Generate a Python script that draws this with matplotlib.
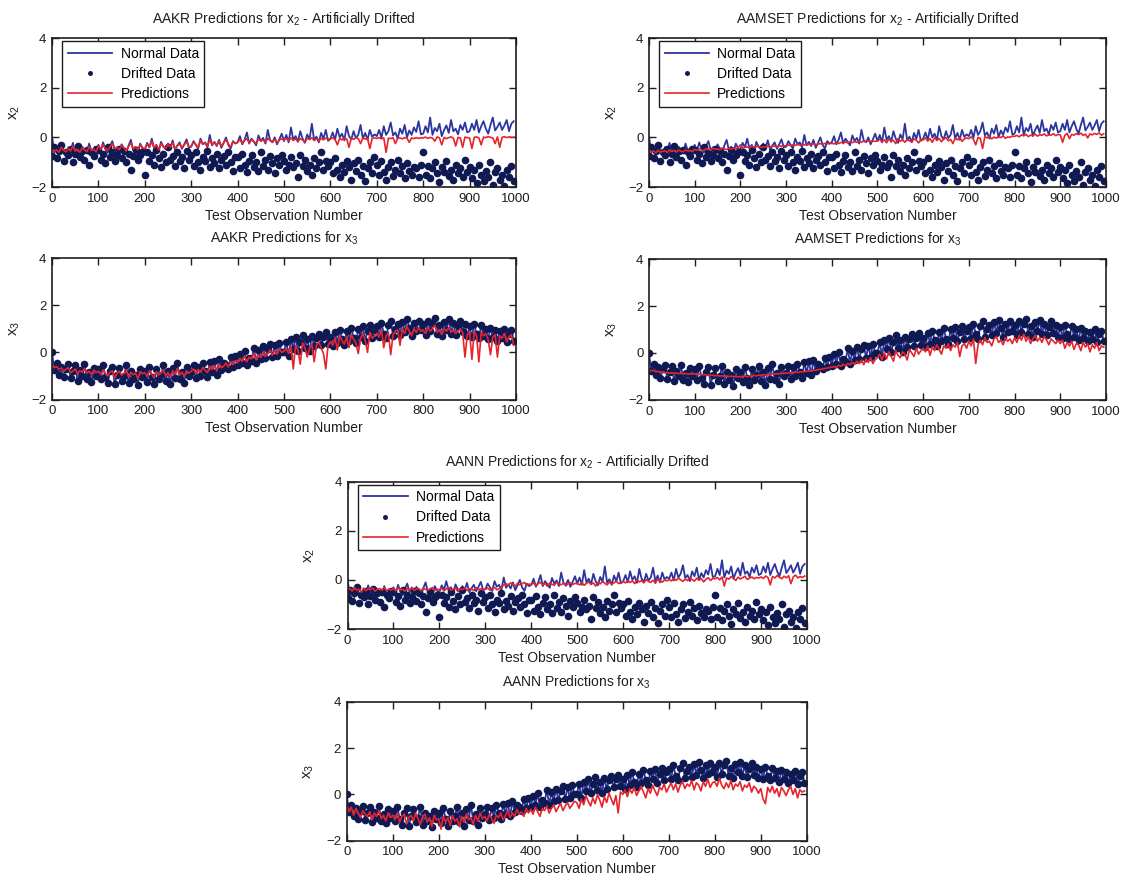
import numpy as np
import matplotlib.pyplot as plt

plt.rcParams['font.family'] = ['Liberation Sans', 'DejaVu Sans']
plt.rcParams['mathtext.fontset'] = 'custom'
plt.rcParams['mathtext.rm'] = 'Liberation Sans'
plt.rcParams['mathtext.it'] = 'Liberation Sans'

# observation numbers (every 5th test observation)
obs = np.arange(0, 1000, 5)

# values below are stored in hundredths
x2_normal = [
    5, -62, -48, -70, -30, -55, -66, -40, -58, -22, -60, -45, -72, -38, -50, -64, -25, -55, -47, -68,
    -30, -55, -20, -48, -62, -35, -15, -50, -40, -58, -28, -45, -65, -33, -10, -52, -38, -60, -25, -44,
    -50, -22, -40, -5, -45, -30, -55, -18, -38, -48, -25, -42, -12, -50, -33, -20, -46, -28, -8, -40,
    -38, -15, -30, -45, -5, -28, -20, -40, 10, -32, -18, -35, -10, -42, -22, 0, -30, -45, -15, -25,
    -20, 5, -28, -10, 20, -25, -5, -18, -32, 8, -15, -2, -25, 30, -12, -20, 0, -28, -8, 15,
    -15, 10, -20, 40, -10, 5, -18, 25, -5, -22, 12, -8, 55, -12, 3, -20, 18, -6, 30, -14,
    -5, 20, -10, 35, 0, 15, -12, 45, 5, -8, 25, -3, 10, 50, -5, 18, -10, 30, 2, 12,
    5, 30, -2, 45, 10, 25, 60, 8, 20, -5, 35, 15, 50, 0, 28, 10, 40, 22, 65, 12,
    15, 45, 20, 80, 10, 38, 25, 55, 5, 30, 48, 18, 70, 25, 35, 12, 50, 30, 60, 20,
    25, 55, 30, 70, 20, 45, 65, 35, 15, 50, 80, 28, 42, 60, 30, 48, 70, 25, 55, 65,
]
x2_drifted = [
    -75, -40, -85, -55, -30, -95, -60, -70, -45, -100, -65, -35, -80, -55, -90, -50, -110, -60, -75, -45,
    -50, -90, -65, -105, -40, -80, -60, -95, -70, -45, -85, -55, -100, -65, -130, -75, -50, -90, -70, -60,
    -150, -60, -95, -70, -110, -50, -85, -120, -65, -100, -40, -90, -75, -115, -60, -95, -80, -125, -55, -90,
    -70, -115, -60, -100, -130, -80, -95, -55, -120, -85, -105, -65, -125, -90, -75, -110, -60, -100, -135, -80,
    -80, -125, -65, -110, -140, -95, -70, -120, -100, -135, -60, -115, -90, -130, -75, -105, -145, -85, -110, -70,
    -95, -130, -110, -80, -120, -105, -160, -70, -115, -90, -135, -110, -150, -85, -125, -100, -60, -130, -95, -115,
    -100, -145, -85, -130, -160, -110, -140, -95, -120, -170, -105, -135, -90, -150, -115, -175, -125, -100, -145, -80,
    -110, -150, -95, -140, -170, -120, -100, -155, -130, -90, -145, -115, -165, -105, -135, -150, -120, -125, -160, -110,
    -60, -150, -115, -165, -125, -100, -145, -180, -120, -140, -95, -155, -130, -170, -110, -145, -125, -160, -90, -140,
    -120, -165, -130, -185, -110, -150, -175, -135, -160, -100, -190, -140, -125, -170, -150, -195, -130, -160, -115, -175,
]
x3_data = [
    0, -75, -45, -95, -60, -105, -70, -50, -110, -80, -55, -120, -75, -100, -50, -115, -85, -125, -65, -100,
    -70, -115, -55, -105, -130, -80, -60, -135, -95, -65, -120, -100, -55, -130, -80, -115, -95, -140, -70, -105,
    -80, -125, -60, -105, -135, -70, -115, -95, -55, -120, -80, -135, -65, -110, -45, -115, -85, -130, -60, -100,
    -85, -55, -110, -60, -100, -45, -80, -105, -40, -85, -35, -95, -30, -75, -45, -55, -70, -20, -60, -15,
    -55, -5, -45, 5, -55, -25, -35, 20, -45, 10, -30, 25, -25, 15, 35, -20, 30, -15, 40, 0,
    0, 45, -15, 55, 15, 65, 5, 45, 75, 20, 55, 5, 70, 25, 60, 80, 30, 65, 85, 35,
    65, 25, 85, 40, 95, 55, 30, 90, 50, 105, 60, 40, 100, 65, 110, 50, 90, 115, 60, 95,
    110, 65, 125, 80, 60, 115, 135, 70, 100, 120, 75, 130, 85, 140, 105, 70, 125, 90, 135, 95,
    120, 75, 135, 90, 125, 145, 80, 115, 70, 130, 95, 140, 80, 125, 75, 110, 135, 85, 120, 70,
    110, 65, 120, 80, 60, 115, 70, 100, 55, 105, 65, 95, 50, 90, 60, 100, 45, 80, 95, 50,
]

aakr_x2 = [
    -45, -55, -50, -60, -40, -52, -58, -45, -55, -35, -55, -48, -60, -42, -50, -58, -38, -52, -48, -58,
    -35, -48, -30, -45, -52, -38, -25, -45, -40, -50, -32, -42, -55, -36, -22, -46, -38, -50, -30, -42,
    -45, -28, -40, -15, -42, -32, -50, -25, -38, -44, -28, -40, -20, -46, -34, -26, -42, -30, -18, -38,
    -35, -20, -30, -40, -12, -28, -22, -36, -8, -30, -20, -32, -15, -36, -22, -8, -28, -38, -18, -24,
    -20, -8, -24, -12, -5, -22, -10, -16, -26, -6, -14, -10, -20, -4, -12, -18, -8, -22, -10, -6,
    -10, -4, -14, -2, -12, -6, -16, -5, -10, -18, -4, -8, -2, -12, -6, -14, -4, -10, -3, -8,
    -6, -2, -8, -30, -4, -10, -2, -6, -40, -3, -8, -1, -5, -25, -2, -7, -3, -45, -4, -2,
    -4, -1, -6, -2, -60, -3, -5, -1, -25, -4, -2, -6, -1, -3, -20, -2, -5, -1, -4, -2,
    -2, 1, -4, 0, -3, -15, 2, -2, -30, 0, -5, -1, 2, -3, -35, 0, -2, -40, 1, -1,
    -3, -45, 0, 2, -2, -30, 1, -1, 3, 0, -2, -25, 2, -40, 0, 3, -1, 2, 0, 1,
]
aamset_x2 = [
    -50, -58, -55, -62, -52, -60, -56, -54, -60, -50, -57, -53, -59, -51, -56, -58, -50, -55, -53, -57,
    -48, -52, -46, -50, -54, -45, -49, -51, -44, -48, -47, -50, -43, -46, -49, -44, -47, -42, -45, -43,
    -30, -44, -40, -38, -42, -36, -40, -38, -35, -41, -37, -39, -34, -38, -36, -35, -38, -33, -36, -34,
    -34, -31, -33, -30, -32, -29, -31, -28, -30, -27, -29, -28, -26, -30, -27, -25, -28, -24, -26, -25,
    -24, -26, -22, -25, -20, -23, -19, -22, -18, -21, -17, -20, -16, -19, -15, -18, -14, -17, -15, -16,
    -14, -8, -18, -10, -22, -6, -15, -12, -25, -5, -16, -10, -20, -8, -14, -18, -6, -12, -22, -9,
    -10, -2, -15, -5, -20, 0, -12, -4, -18, -6, -1, -14, -8, -25, -3, -10, 0, -16, -6, -2,
    -5, 2, -8, -30, 0, -4, -45, 3, -2, 5, -6, 1, -3, 4, -1, 6, -4, 2, 0, 5,
    4, 8, 2, 10, 6, 12, 3, 9, 7, 13, 5, 11, 8, 14, 6, 10, 9, 15, 7, 12,
    10, -20, 8, 16, -5, 12, 9, 15, 11, 17, 8, 13, -2, 14, 10, 16, 12, 18, 9, 14,
]
aann_x2 = [
    -40, -35, -45, -30, -42, -38, -50, -33, -44, -36, -40, -32, -46, -38, -35, -42, -30, -44, -37, -41,
    -36, -44, -32, -40, -38, -46, -34, -41, -30, -43, -37, -35, -45, -33, -39, -42, -36, -31, -44, -38,
    -40, -33, -45, -36, -30, -42, -38, -34, -47, -35, -40, -32, -43, -37, -35, -44, -31, -39, -36, -41,
    -38, -33, -42, -35, -30, -40, -36, -32, -20, -15, -22, -12, -18, -25, -14, -20, -16, -10, -22, -17,
    -18, -12, -24, -15, -10, -20, -14, -26, -12, -18, -22, -9, -16, -20, -13, -25, -15, -11, -19, -14,
    -15, -20, -10, -22, -14, -8, -18, -12, -25, -10, -16, -6, -14, -20, -9, -17, -12, -5, -15, -10,
    -6, -12, -2, -10, -4, -15, 0, -8, -3, -12, 2, -6, -10, -1, -14, 4, -5, -9, 0, -4,
    2, -4, 6, -2, 8, 0, -6, 4, -3, 10, 1, -5, 7, -1, 5, -8, 3, 9, -2, 6,
    5, 10, 0, 12, -25, 8, 3, 14, 6, -2, 11, 4, 9, 15, 2, 7, 12, 5, 10, 8,
    12, 6, 16, 10, -20, 14, 8, 18, 11, 5, 15, 9, 17, -15, 12, 20, 8, 14, 10, 16,
]

aakr_x3 = [
    -50, -65, -60, -72, -66, -80, -72, -65, -85, -80, -70, -90, -78, -84, -68, -88, -80, -95, -75, -85,
    -80, -92, -75, -90, -100, -84, -78, -110, -88, -80, -96, -90, -75, -105, -85, -94, -88, -112, -82, -90,
    -86, -100, -78, -92, -108, -82, -96, -88, -75, -100, -85, -105, -78, -92, -68, -96, -84, -102, -78, -88,
    -80, -70, -90, -72, -84, -64, -76, -86, -60, -72, -55, -78, -50, -66, -58, -45, -62, -40, -52, -35,
    -45, -25, -38, -15, -40, -20, -28, -5, -32, -10, -22, 0, -18, -5, 10, -12, 8, -8, 15, 0,
    5, 15, -5, 25, -70, 30, 10, -50, 40, 20, -20, 15, 35, -40, 30, 45, 20, -5, -70, 30,
    45, 30, 60, 10, 70, 50, 35, 65, 20, 75, 55, 40, -5, 60, 80, 50, 0, 85, 60, 70,
    80, 65, 95, 20, 70, 85, -10, 75, 90, 95, 30, 100, 80, 110, 90, 70, 100, 85, 105, 90,
    95, 80, 105, 90, 100, 115, 85, 95, 75, 100, 90, 105, 85, 95, 80, 90, 100, 85, -20, 75,
    85, -30, 90, 70, -40, 85, 70, 80, 55, -10, 65, 75, -20, 70, 60, 80, 45, 65, 75, 30,
]
aamset_x3 = [
    -72, -76, -74, -80, -78, -82, -80, -84, -83, -86, -84, -87, -85, -88, -86, -89, -87, -90, -88, -90,
    -89, -91, -90, -93, -92, -94, -93, -96, -95, -97, -96, -98, -97, -99, -98, -100, -99, -101, -100, -102,
    -100, -103, -98, -101, -97, -99, -95, -98, -94, -96, -92, -94, -91, -93, -89, -90, -88, -89, -86, -87,
    -85, -86, -84, -85, -82, -83, -81, -80, -79, -78, -77, -76, -74, -73, -71, -70, -68, -66, -64, -62,
    -60, -58, -62, -52, -56, -48, -55, -45, -50, -40, -48, -35, -45, -30, -50, -25, -40, -20, -45, -28,
    -20, -5, -30, 0, -25, 5, -15, -35, 10, -10, -20, 5, -5, -30, 15, 0, -15, 20, -5, 10,
    20, 5, 30, -10, 25, 10, 35, 15, -5, 30, 20, 40, 10, 35, 25, 45, -15, 30, 40, 20,
    50, 30, 60, -45, 35, 55, 35, 65, 45, 50, 30, 60, 70, 45, 55, 35, 65, 50, 60, 40,
    65, 45, 75, 55, 80, 50, 70, 40, 60, 75, 50, 65, 45, 70, 55, 35, 60, 50, 40, 55,
    40, 55, 20, 45, 30, 50, 15, 40, 35, 10, 45, 25, 40, 5, 35, 20, 45, 10, 30, 25,
]
aann_x3 = [
    -40, -75, -55, -90, -60, -80, -100, -70, -85, -95, -75, -110, -80, -95, -70, -105, -90, -115, -80, -100,
    -90, -110, -80, -120, -95, -85, -125, -100, -90, -115, -80, -105, -130, -95, -85, -120, -100, -140, -90, -110,
    -105, -150, -95, -120, -100, -135, -90, -115, -105, -140, -95, -120, -85, -110, -100, -130, -90, -115, -80, -105,
    -95, -115, -85, -105, -125, -90, -100, -80, -110, -90, -70, -100, -80, -95, -65, -85, -75, -95, -60, -80,
    -65, -85, -55, -75, -95, -60, -70, -50, -80, -60, -45, -75, -55, -40, -70, -50, -35, -60, -45, -30,
    -35, -60, -20, -45, -5, -30, -50, -15, -40, 0, -25, -55, -10, -35, 5, -20, -45, -5, -80, 10,
    0, 20, -10, 25, 5, 30, -5, 15, 35, 10, -15, 25, 5, 40, 15, -5, 30, 20, 45, 10,
    30, 50, 20, 45, 10, 40, 55, 25, 45, 35, 60, 20, 50, 40, 15, 55, 35, 65, 30, 50,
    55, 35, 70, 40, 25, 50, 30, 60, 20, 45, 35, 55, 15, 40, 30, 50, 10, 35, 25, 5,
    25, -20, -40, 30, 10, 35, 5, 25, -10, 30, 15, -5, 20, 35, 0, 25, -15, 20, 10, 15,
]

BLUE = '#2a35a0'
NAVY = '#0f1952'
RED = '#e5242c'
INK = '#1e1e1e'


def draw_panel(ax, title, var, normal, dots, pred, legend=False):
    normal = np.array(normal) / 100
    dots = np.array(dots) / 100
    pred = np.array(pred) / 100
    ax.plot(obs, normal, color=BLUE, lw=1.3, label='Normal Data')
    ax.plot(obs, dots, 'o', color=NAVY, ms=5.5, mew=0, label='Drifted Data')
    ax.plot(obs, pred, color=RED, lw=1.2, label='Predictions')
    ax.set_xlim(0, 1000)
    ax.set_ylim(-2, 4)
    ax.set_xticks(range(0, 1001, 100))
    ax.set_yticks([-2, 0, 2, 4])
    ax.tick_params(direction='in', top=True, right=True, length=5, width=1.0,
                   labelsize=9.5, colors=INK, pad=4)
    for s in ax.spines.values():
        s.set_linewidth(1.2)
        s.set_color(INK)
    ax.set_title(title, fontsize=10, color=INK, pad=11)
    ax.set_xlabel('Test Observation Number', fontsize=10, color=INK, labelpad=3)
    ax.set_ylabel(var, fontsize=11, color=INK, labelpad=7)
    if legend:
        leg = ax.legend(loc='upper left', bbox_to_anchor=(0.022, 0.98),
                        borderaxespad=0, fontsize=10, frameon=True, fancybox=False,
                        edgecolor=INK, framealpha=1, handlelength=3.2, markerscale=0.65,
                        borderpad=0.4, labelspacing=0.45, handletextpad=0.6)
        leg.get_frame().set_linewidth(1.0)


fig = plt.figure(figsize=(11.21, 8.81), dpi=100)

ax1 = fig.add_axes([0.0464, 0.7877, 0.4139, 0.1691])
ax2 = fig.add_axes([0.5789, 0.7877, 0.4077, 0.1691])
ax3 = fig.add_axes([0.0464, 0.5465, 0.4139, 0.1606])
ax4 = fig.add_axes([0.5789, 0.5460, 0.4077, 0.1600])
ax5 = fig.add_axes([0.3100, 0.2860, 0.4099, 0.1672])
ax6 = fig.add_axes([0.3093, 0.0457, 0.4104, 0.1578])

draw_panel(ax1, 'AAKR Predictions for $x_2$ - Artificially Drifted', '$x_2$',
           x2_normal, x2_drifted, aakr_x2, legend=True)
draw_panel(ax2, 'AAMSET Predictions for $x_2$ - Artificially Drifted', '$x_2$',
           x2_normal, x2_drifted, aamset_x2, legend=True)
draw_panel(ax3, 'AAKR Predictions for $x_3$', '$x_3$', x3_data, x3_data, aakr_x3)
draw_panel(ax4, 'AAMSET Predictions for $x_3$', '$x_3$', x3_data, x3_data, aamset_x3)
draw_panel(ax5, 'AANN Predictions for $x_2$ - Artificially Drifted', '$x_2$',
           x2_normal, x2_drifted, aann_x2, legend=True)
draw_panel(ax6, 'AANN Predictions for $x_3$', '$x_3$', x3_data, x3_data, aann_x3)

fig.savefig('out.png', dpi=100)
